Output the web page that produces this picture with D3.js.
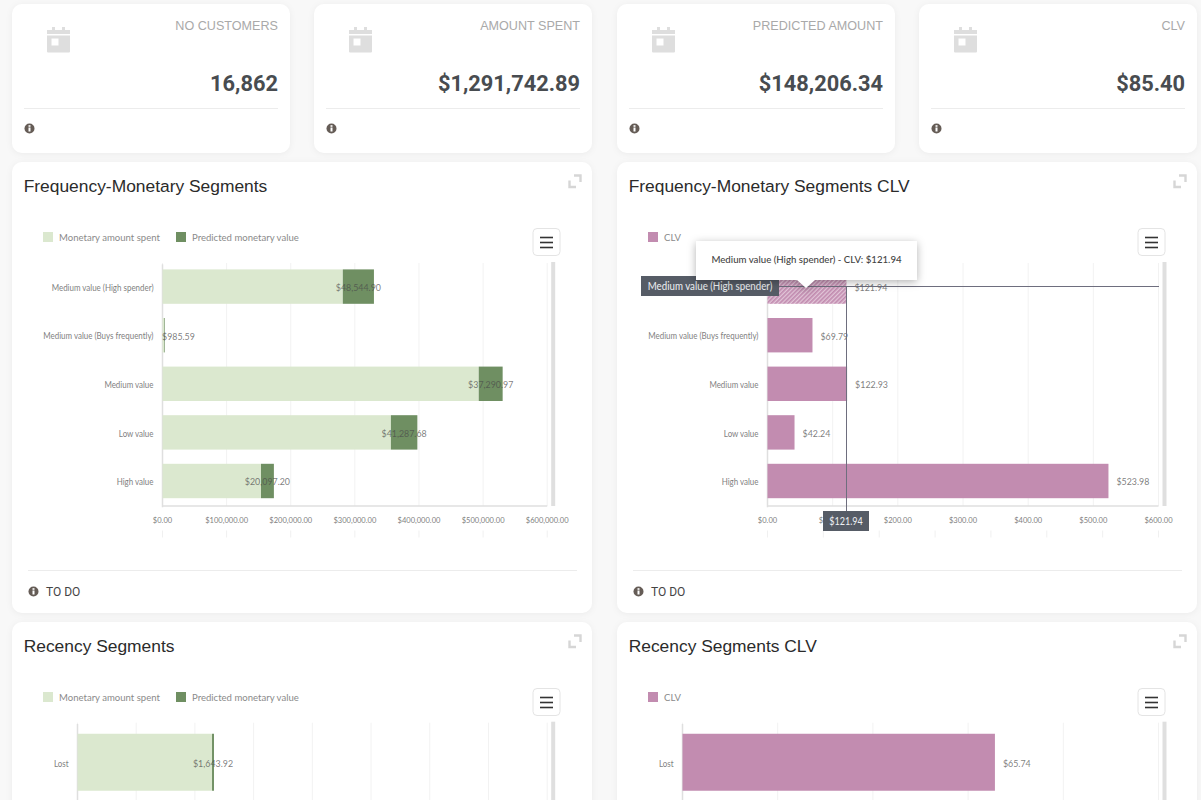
<!DOCTYPE html>
<html><head><meta charset="utf-8">
<script src="https://cdnjs.cloudflare.com/ajax/libs/d3/7.8.5/d3.min.js"></script>
<style>
html,body{margin:0;padding:0;background:#f8f8f8;overflow:hidden}
svg{display:block}
.card{fill:#fff;filter:drop-shadow(0 1px 3px rgba(0,0,0,.05))}
.tick-label text,.cat text{font-family:Lato,sans-serif;fill:#7f7f7f}
</style></head><body>
<svg id="c" width="1201" height="800" viewBox="0 0 1201 800"></svg>
<script>
// --- data ---
const kpiTitles = ["NO CUSTOMERS","AMOUNT SPENT","PREDICTED AMOUNT","CLV"];
const kpiValues = ["16,862","$1,291,742.89","$148,206.34","$85.40"];
const fmCategories = ["Medium value (High spender)","Medium value (Buys frequently)","Medium value","Low value","High value"];
const fmSpent = [282000,3600,494000,357000,154400];
const fmPredicted = [48544.90,985.59,37290.97,41287.68,20097.20];
const fmClv = [121.94,69.79,122.93,42.24,523.98];
const recCategories = ["Lost"];
const recSpent = [115000];
const recPredicted = [1643.92];
const recClv = [65.74];
const legendMonetary = ["Monetary amount spent","Predicted monetary value"];
const legendClv = ["CLV"];
const colGreenLight="#dbe8cf", colGreenDark="#6f8f62", colPink="#c28cb0";
const uiFont="'Liberation Sans',Arial,sans-serif", numFont="Roboto,sans-serif", chartFont="Lato,sans-serif";

const svg=d3.select("#c");
const money=d3.format("$,.2f");
function squeeze(sel,f){
  sel.each(function(){
    this.setAttribute("textLength",this.getComputedTextLength()*f);
    this.setAttribute("lengthAdjust","spacingAndGlyphs");
  });
  return sel;
}
const defs=svg.append("defs");
const pat=defs.append("pattern").attr("id","hatch").attr("width",3).attr("height",3)
  .attr("patternUnits","userSpaceOnUse").attr("patternTransform","rotate(45)");
pat.append("rect").attr("width",3).attr("height",3).attr("fill","#e2c6d8");
pat.append("rect").attr("width",1.7).attr("height",3).attr("fill",colPink);

function calendar(g,x,y){
  g.append("path").attr("fill","#dedede").attr("fill-rule","evenodd")
   .attr("d",`M${x} ${y+5}h5v-3h3v3h7v-3h3v3h5v4h-23z M${x} ${y+10.5}h23v16a1 1 0 0 1-1 1h-21a1 1 0 0 1-1-1z M${x+4.5} ${y+13.5}v7h7v-7z`);
}
function info(g,x,y){
  g.append("circle").attr("cx",x).attr("cy",y).attr("r",5).attr("fill","#655c56");
  g.append("rect").attr("x",x-1).attr("y",y-1).attr("width",2).attr("height",4).attr("fill","#fff");
  g.append("rect").attr("x",x-1).attr("y",y-3.3).attr("width",2).attr("height",1.6).attr("fill","#fff");
}
// KPI cards
const kpiX=[12,314,617,919];
kpiTitles.forEach((t,i)=>{
  const x=kpiX[i], g=svg.append("g");
  g.append("rect").attr("class","card").attr("x",x).attr("y",4).attr("width",278).attr("height",149).attr("rx",10);
  calendar(g,x+35,25);
  g.append("text").attr("font-family",uiFont).attr("x",x+266).attr("y",29.5).attr("text-anchor","end").attr("font-size",12.6).attr("fill","#a9a9a9").text(t);
  g.append("text").attr("font-family",numFont).attr("x",x+266).attr("y",91).attr("text-anchor","end").attr("font-size",21.8).attr("font-weight",700).attr("fill","#484c50").text(kpiValues[i]);
  g.append("line").attr("x1",x+12).attr("x2",x+266).attr("y1",108.5).attr("y2",108.5).attr("stroke","#ececec");
  info(g,x+17.5,128.5);
});

function panel(o){
  const g=svg.append("g");
  const top=o.top, X=o.card;
  g.append("rect").attr("class","card").attr("x",X).attr("y",top).attr("width",580).attr("height",451).attr("rx",10);
  g.append("text").attr("font-family",uiFont).attr("x",X+11.7).attr("y",top+29.5).attr("font-size",17.4).attr("fill","#2b2b2b").text(o.title);
  // expand icon
  g.append("path").attr("fill","none").attr("stroke","#d6d6d6").attr("stroke-width",2.4)
   .attr("d",`M${X+562} ${top+13.5}h6.5v6.5 M${X+557.5} ${top+18.5}v6.5h6.5`);
  // legend
  let lx=X+31;
  o.legend.forEach((l,i)=>{
    const w=o.legendWidths[i];
    g.append("rect").attr("x",lx).attr("y",top+70).attr("width",10).attr("height",10).attr("fill",o.colors[i]);
    squeeze(g.append("text").attr("x",lx+16).attr("y",top+79).attr("font-family",chartFont).attr("font-size",10).attr("fill","#8a8a8a").text(l),.955);
    lx+=w;
  });
  // menu button
  g.append("rect").attr("x",X+521).attr("y",top+66.5).attr("width",27).attr("height",27).attr("rx",4).attr("fill","#fff").attr("stroke","#e4e4e4");
  [75,80,85].forEach(d=>g.append("line").attr("x1",X+528).attr("x2",X+541).attr("y1",top+d+.5).attr("y2",top+d+.5).attr("stroke","#333").attr("stroke-width",1.6));

  const x=d3.scaleLinear().domain([0,o.max]).range([o.x0,o.x1]);
  const y=d3.scaleBand().domain(o.categories).range([o.yTop-.7,o.yBot-.7]).paddingInner(.292).paddingOuter(.146);
  const bottom=Math.min(o.yBot,800);
  const tickVals=d3.range(o.ticks+1).map(i=>o.max*i/o.ticks);
  // grid
  const grid=g.append("g").attr("transform",`translate(0,${bottom})`)
    .call(d3.axisBottom(x).tickValues(tickVals).tickSize(-(bottom-o.yTop)).tickFormat(""));
  grid.select(".domain").remove();
  grid.selectAll("line").attr("stroke","#f2f2f2");
  // thick right rail
  g.append("rect").attr("x",o.x1+4.5).attr("y",o.yTop-1).attr("width",4).attr("height",bottom-o.yTop+1).attr("fill","#dfdfdf");
  // left axis line + categories
  const cat=g.append("g").attr("class","cat").attr("transform",`translate(${o.x0},1.5)`)
    .call(d3.axisLeft(y).tickSize(0).tickPadding(8.5));
  cat.select(".domain").attr("stroke","#dfdfdf").attr("stroke-width",1.5);
  cat.selectAll("text").attr("font-size",8.6);
  squeeze(cat.selectAll("text"),.925);
  // bottom axis
  if(o.yBot<=800){
    const ax=g.append("g").attr("class","tick-label").attr("transform",`translate(0,${o.yBot-.5})`)
      .call(d3.axisBottom(x).tickValues(tickVals).tickSize(0).tickPadding(11.5).tickFormat(money));
    ax.select(".domain").attr("stroke","#dfdfdf").attr("stroke-width",1.5);
    ax.selectAll("text").attr("font-size",8.4);
    squeeze(ax.selectAll("text"),.9);
    const minor=g.append("g").attr("transform",`translate(0,${o.yBot+24.5})`)
      .call(d3.axisBottom(x).tickValues(d3.range(o.minor+1).map(i=>o.max*i/o.minor)).tickSize(7).tickFormat(""));
    minor.select(".domain").remove();
    minor.selectAll("line").attr("stroke","#f0f0f0");
  }
  o.draw(g,x,y);
  // footer
  if(top+451<=800){
    g.append("line").attr("x1",X+16).attr("x2",X+565).attr("y1",top+408.5).attr("y2",top+408.5).attr("stroke","#ececec");
    info(g,X+21.5,top+429.5);
    g.append("text").attr("font-family",numFont).attr("x",X+34).attr("y",top+434).attr("font-size",12).attr("fill","#444").text("TO DO");
  }
  return {g,x,y};
}
function valueLabel(g,px,py,t,x0,center){
  const el=g.append("text").attr("y",py+4.3).attr("font-family",chartFont).attr("font-size",10).attr("fill","#4a4a4a").attr("fill-opacity",.72).text(t);
  const f=.885, w=el.node().getComputedTextLength()*f;
  squeeze(el,f);
  if(center){ el.attr("x",Math.max(px-w/2,x0)); } else { el.attr("x",px); }
}
function drawStack(cats,sp,pr){
  return (g,x,y)=>{
    cats.forEach((c,i)=>{
      const t=y(c), h=y.bandwidth(), x0=x(0);
      g.append("rect").attr("x",x0+.5).attr("y",t).attr("width",x(sp[i])-x0-.5).attr("height",h).attr("fill",colGreenLight);
      g.append("rect").attr("x",x(sp[i])).attr("y",t).attr("width",x(sp[i]+pr[i])-x(sp[i])).attr("height",h).attr("fill",colGreenDark);
      valueLabel(g,x(sp[i]+pr[i]/2),t+h/2,money(pr[i]),x0,true);
    });
  };
}
function drawClv(cats,vals,hover){
  return (g,x,y)=>{
    cats.forEach((c,i)=>{
      const t=y(c), h=y.bandwidth(), x0=x(0);
      g.append("rect").attr("x",x0+.5).attr("y",t).attr("width",x(vals[i])-x0-.5).attr("height",h)
       .attr("fill",i===hover?"url(#hatch)":colPink);
      valueLabel(g,x(vals[i])+8,t+h/2,money(vals[i]),x0,false);
    });
  };
}

panel({card:12,top:162,title:"Frequency-Monetary Segments",legend:legendMonetary,legendWidths:[133,0],colors:[colGreenLight,colGreenDark],
  categories:fmCategories,max:600000,ticks:6,minor:6,x0:162,x1:546.7,yTop:263,yBot:506,draw:drawStack(fmCategories,fmSpent,fmPredicted)});
const p2=panel({card:617,top:162,title:"Frequency-Monetary Segments CLV",legend:legendClv,legendWidths:[0],colors:[colPink],
  categories:fmCategories,max:600,ticks:6,minor:7,x0:767,x1:1158,yTop:263,yBot:506,draw:drawClv(fmCategories,fmClv,0)});
panel({card:12,top:622,title:"Recency Segments",legend:legendMonetary,legendWidths:[133,0],colors:[colGreenLight,colGreenDark],
  categories:recCategories,max:400000,ticks:8,minor:8,x0:77,x1:546.7,yTop:722.7,yBot:803.2,draw:drawStack(recCategories,recSpent,recPredicted)});
panel({card:617,top:622,title:"Recency Segments CLV",legend:legendClv,legendWidths:[0],colors:[colPink],
  categories:recCategories,max:100,ticks:5,minor:5,x0:682,x1:1158,yTop:722.7,yBot:803.2,draw:drawClv(recCategories,recClv,-1)});

// crosshair + tooltip for hovered bar
(function(){
  const {g,x,y}=p2;
  const hoverCat=fmCategories[0], hoverVal=fmClv[0];
  const vx=x(hoverVal), hy=y(hoverCat)+y.bandwidth()/2;
  const hx=Math.floor(vx)+.5, hyy=Math.floor(hy)+.5;
  g.append("line").attr("x1",hx).attr("x2",hx).attr("y1",hyy).attr("y2",511).attr("stroke","#6e6e7e").attr("stroke-width",1);
  g.append("line").attr("x1",779).attr("x2",1159).attr("y1",hyy).attr("y2",hyy).attr("stroke","#6e6e7e").attr("stroke-width",1);
  const lab=(bx,by,w,h,t,sz,f)=>{
    g.append("rect").attr("x",bx).attr("y",by).attr("width",w).attr("height",h).attr("fill","#565c66");
    squeeze(g.append("text").attr("x",bx+w/2).attr("y",by+h/2+3.6).attr("text-anchor","middle").attr("font-family",chartFont).attr("font-size",sz).attr("fill","#eef0f2").text(t),f);
  };
  lab(641,276,138,20,hoverCat,10.5,.926);
  lab(823,511,46,20,money(hoverVal),10.5,.86);
  const tip=g.append("g");
  tip.append("path").attr("d","M696 241h221v39h-102l-9 8-9-8h-101z").attr("fill","#fff").style("filter","drop-shadow(0 2px 4px rgba(0,0,0,.3))");
  squeeze(tip.append("text").attr("x",806.5).attr("y",263).attr("text-anchor","middle").attr("font-family",chartFont).attr("font-size",10).attr("font-weight",500).attr("fill","#444")
    .text(`${hoverCat} - CLV: ${money(hoverVal)}`),.965);
})();
</script></body></html>
